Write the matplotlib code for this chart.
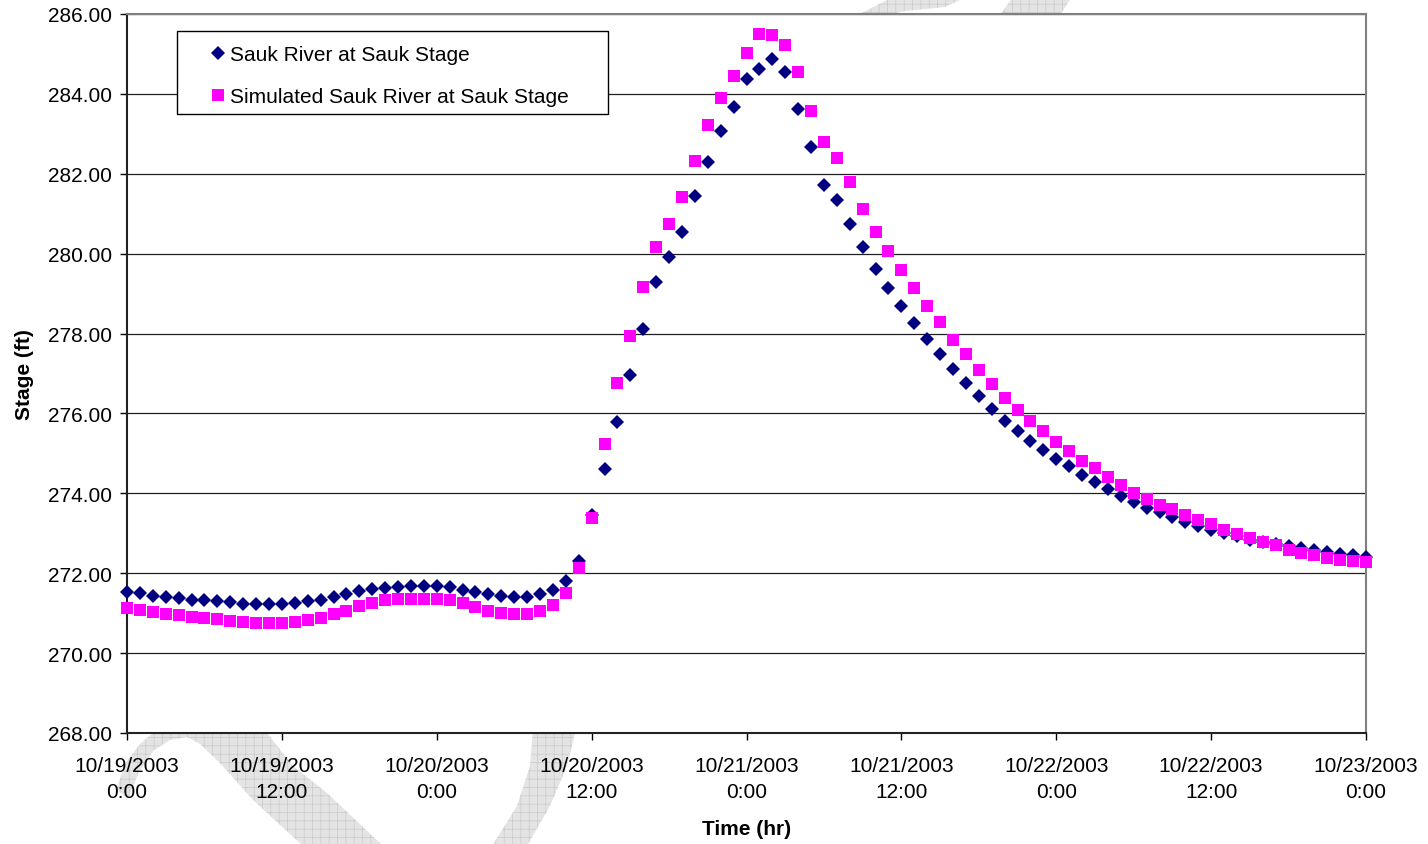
import matplotlib
matplotlib.use("Agg")
import matplotlib.pyplot as plt
import numpy as np
from matplotlib.patches import Polygon, Rectangle

plt.rcParams["font.family"] = ["Liberation Sans", "DejaVu Sans"]
plt.rcParams["hatch.linewidth"] = 0.5

# hourly readings, 10/19/2003 0:00 to 10/23/2003 0:00
hours = np.arange(0, 97)

observed = [
    271.54, 271.50, 271.44, 271.40, 271.37, 271.33, 271.32, 271.30, 271.27, 271.24,
    271.23, 271.23, 271.23, 271.26, 271.30, 271.33, 271.41, 271.48, 271.55, 271.60,
    271.64, 271.66, 271.67, 271.69, 271.69, 271.65, 271.58, 271.54, 271.47, 271.43,
    271.40, 271.40, 271.48, 271.58, 271.81, 272.30, 273.46, 274.62, 275.78, 276.96,
    278.12, 279.29, 279.91, 280.54, 281.44, 282.30, 283.07, 283.67, 284.38, 284.63,
    284.88, 284.54, 283.61, 282.67, 281.73, 281.35, 280.75, 280.16, 279.62, 279.13,
    278.70, 278.27, 277.87, 277.49, 277.11, 276.76, 276.43, 276.11, 275.82, 275.55,
    275.32, 275.09, 274.87, 274.68, 274.47, 274.28, 274.12, 273.93, 273.78, 273.63,
    273.53, 273.40, 273.28, 273.18, 273.08, 273.00, 272.92, 272.84, 272.78, 272.72,
    272.67, 272.62, 272.57, 272.53, 272.49, 272.45, 272.41,
]

simulated = [
    271.14, 271.08, 271.03, 270.99, 270.95, 270.91, 270.88, 270.85, 270.81, 270.77,
    270.75, 270.75, 270.75, 270.78, 270.83, 270.88, 270.99, 271.06, 271.17, 271.26,
    271.32, 271.35, 271.35, 271.36, 271.36, 271.32, 271.25, 271.16, 271.06, 271.01,
    270.98, 270.98, 271.06, 271.20, 271.51, 272.12, 273.37, 275.24, 276.76, 277.94,
    279.16, 280.16, 280.75, 281.42, 282.33, 283.21, 283.90, 284.45, 285.03, 285.51,
    285.47, 285.22, 284.56, 283.58, 282.80, 282.39, 281.79, 281.11, 280.53, 280.06,
    279.60, 279.13, 278.70, 278.29, 277.85, 277.49, 277.10, 276.73, 276.39, 276.08,
    275.82, 275.56, 275.29, 275.06, 274.82, 274.63, 274.42, 274.20, 274.01, 273.87,
    273.72, 273.60, 273.47, 273.33, 273.22, 273.09, 272.97, 272.87, 272.78, 272.70,
    272.59, 272.51, 272.45, 272.38, 272.34, 272.30, 272.29,
]

tick_hours = [0, 12, 24, 36, 48, 60, 72, 84, 96]
tick_labels = [
    "10/19/2003\n0:00", "10/19/2003\n12:00", "10/20/2003\n0:00",
    "10/20/2003\n12:00", "10/21/2003\n0:00", "10/21/2003\n12:00",
    "10/22/2003\n0:00", "10/22/2003\n12:00", "10/23/2003\n0:00",
]
y_ticks = np.arange(268, 287, 2)

W, H = 1428, 845
fig = plt.figure(figsize=(W / 100, H / 100), dpi=100)
ax = fig.add_axes([127 / W, 1 - 734 / H, (1366 - 127) / W, (734 - 15) / H])


def px(pts):
    # figure pixel coords (y from top) -> figure fraction
    return [(x / W, 1 - y / H) for x, y in pts]


# faint watermark behind the plot area
marks = [
    [(116, 790), (127, 762), (140, 745), (160, 728), (200, 718), (245, 720), (267, 734),
     (293, 767), (327, 794), (383, 847), (303, 847), (253, 801), (220, 764),
     (200, 745), (187, 738), (170, 741), (153, 752), (138, 775), (128, 800)],
    [(533, 730), (578, 730), (575, 734), (567, 767), (550, 807), (527, 847),
     (492, 847), (517, 807), (530, 767)],
    [(858, 16), (893, -2), (966, -2), (945, 8), (905, 12), (885, 16)],
    [(1000, 16), (1013, -2), (1072, -2), (1060, 16)],
]
for m in marks:
    fig.patches.append(Polygon(px(m), closed=True, transform=fig.transFigure,
                               facecolor="#e4e4e4", edgecolor="#c9c9c9",
                               hatch="++", linewidth=0, zorder=-5))

ax.plot(hours, observed, linestyle="none", marker="D", markersize=7,
        color="#000080", markeredgewidth=0, label="Sauk River at Sauk Stage",
        zorder=4, clip_on=False)
ax.plot(hours, simulated, linestyle="none", marker="s", markersize=9,
        color="#ff00ff", markeredgewidth=0,
        label="Simulated Sauk River at Sauk Stage", zorder=5, clip_on=False)

ax.set_xlim(0, 96)
ax.set_ylim(268, 286)
ax.set_xticks(tick_hours)
ax.set_xticklabels(tick_labels, fontsize=15, linespacing=1.45)
ax.set_yticks(y_ticks)
ax.set_yticklabels([f"{v:.2f}" for v in y_ticks], fontsize=15)
ax.tick_params(axis="both", direction="out", length=5, width=1, color="#000000")
ax.tick_params(axis="y", pad=6)
ax.tick_params(axis="x", pad=11.5)

ax.yaxis.grid(True, color="#202020", linewidth=0.9)
ax.set_axisbelow(True)

for side in ["left", "bottom"]:
    ax.spines[side].set_color("#222222")
    ax.spines[side].set_linewidth(1.5)
for side in ["top", "right"]:
    ax.spines[side].set_color("#808080")
    ax.spines[side].set_linewidth(1.5)

ax.set_xlabel("Time (hr)", fontsize=15, fontweight="bold", labelpad=13.5)
ax.set_ylabel("Stage (ft)", fontsize=15, fontweight="bold", labelpad=10)

# legend box, Excel style
ax.add_patch(Rectangle(((177 - 127) / 1239, (734 - 115) / 719), (608 - 177) / 1239,
                       (115 - 32) / 719, transform=ax.transAxes, facecolor="white",
                       edgecolor="black", linewidth=1, zorder=6))
leg = ax.legend(loc="upper left", bbox_to_anchor=((211.7 - 127) / 1239, (734 - 46) / 719),
                frameon=False, fontsize=15, borderpad=0, borderaxespad=0,
                handlelength=0.6, handletextpad=0.3, labelspacing=1.1, numpoints=1)
leg.set_zorder(7)

fig.savefig("out.png", dpi=100)
